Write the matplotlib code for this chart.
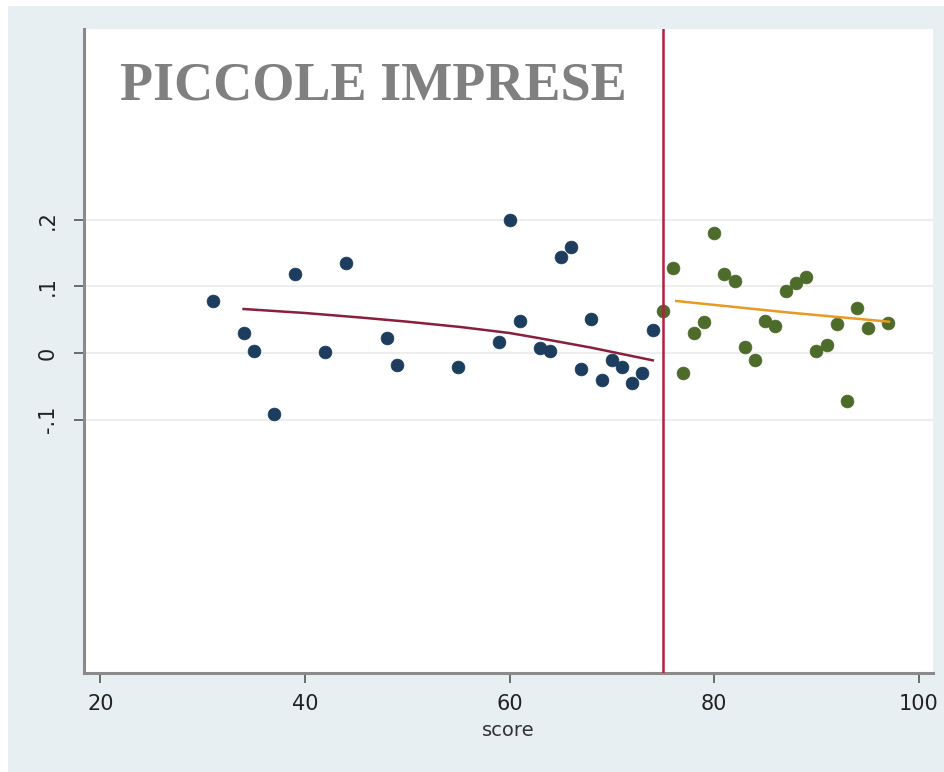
import matplotlib
matplotlib.use("Agg")
import matplotlib.pyplot as plt
from matplotlib.patches import Rectangle

# ---- data ----
left_score = [31, 34, 35, 37, 39, 42, 44, 48, 49, 55, 59, 60, 61, 63, 64, 65, 66,
              67, 68, 69, 70, 71, 72, 73, 74]
left_value = [0.078, 0.030, 0.003, -0.091, 0.118, 0.002, 0.135, 0.022, -0.018, -0.021,
              0.016, 0.200, 0.048, 0.007, 0.003, 0.144, 0.159, -0.024, 0.051, -0.040,
              -0.010, -0.021, -0.045, -0.030, 0.034]
right_score = [75, 76, 77, 78, 79, 80, 81, 82, 83, 84, 85, 86, 87, 88, 89, 90, 91,
               92, 93, 94, 95, 97]
right_value = [0.063, 0.127, -0.030, 0.030, 0.047, 0.180, 0.118, 0.108, 0.009, -0.010,
               0.048, 0.040, 0.093, 0.105, 0.114, 0.003, 0.012, 0.043, -0.072, 0.067,
               0.037, 0.045]
left_fit_x = [34, 40, 45.6, 50, 55.2, 60, 63, 68, 74]
left_fit_y = [0.066, 0.060, 0.053, 0.047, 0.039, 0.030, 0.022, 0.008, -0.011]
right_fit_x = [76.3, 87.1, 97.1]
right_fit_y = [0.078, 0.061, 0.047]
cutoff = 75
x_ticks = [20, 40, 60, 80, 100]
y_ticks = [-0.1, 0, 0.1, 0.2]
y_tick_labels = ["-.1", "0", ".1", ".2"]
title_text = "PICCOLE IMPRESE"
x_label = "score"

W, H = 945, 772
fig = plt.figure(figsize=(W / 100, H / 100), dpi=100, facecolor="white")
fig.patches.append(Rectangle((8 / W, 0), 1 - 8 / W, 1 - 6 / H, transform=fig.transFigure,
                             facecolor="#e7eff2", edgecolor="none", zorder=-10))

ax = fig.add_axes([84 / W, 1 - 673 / H, (933 - 84) / W, (673 - 29) / H])
ax.set_zorder(1)
ax.set_facecolor("white")
ax.set_xlim(18.4, 101.4)
ax.set_ylim(-0.48, 0.486)

for y in y_ticks:
    ax.axhline(y, color="#eeeeee", lw=1.5, zorder=1)

ax.scatter(left_score, left_value, s=85, color="#1c3d5e", edgecolors="#1c3d5e",
           linewidths=0.5, zorder=3)
ax.scatter(right_score, right_value, s=85, color="#4d6b2a", edgecolors="#4d6b2a",
           linewidths=0.5, zorder=3)
ax.plot(left_fit_x, left_fit_y, color="#8a1e3c", lw=1.8, zorder=4)
ax.plot(right_fit_x, right_fit_y, color="#e89a22", lw=1.8, zorder=4)
ax.axvline(cutoff, color="#b3203e", lw=1.8, zorder=5)

for side in ["top", "right"]:
    ax.spines[side].set_visible(False)
for side in ["left", "bottom"]:
    ax.spines[side].set_color("#8a8a8a")
    ax.spines[side].set_linewidth(2.2)

ax.set_xticks(x_ticks)
ax.set_xticklabels([str(v) for v in x_ticks])
ax.set_yticks(y_ticks)
ax.set_yticklabels(y_tick_labels, rotation=90, va="center")
ax.tick_params(axis="both", colors="#555555", length=7, width=1.2, labelsize=15,
               labelcolor="#222222")
ax.tick_params(axis="y", pad=12)
ax.tick_params(axis="x", pad=8)
ax.set_xlabel(x_label, fontsize=14, color="#333333", labelpad=5)

ax.text(0.042, 0.89, title_text, transform=ax.transAxes, fontsize=39,
        fontweight="bold", family="Liberation Serif", color="#808080", va="baseline",
        ha="left", zorder=6)

fig.savefig("out.png", dpi=100, facecolor=fig.get_facecolor())
